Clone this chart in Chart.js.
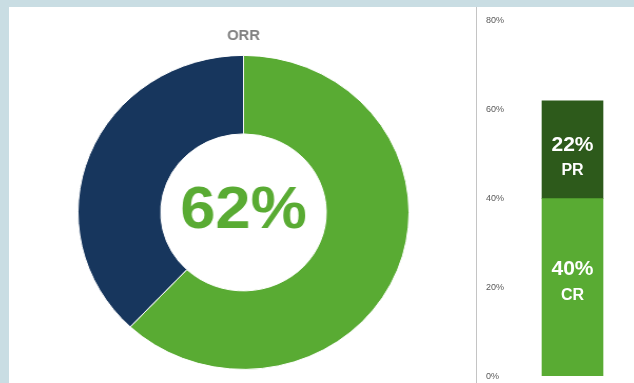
<!DOCTYPE html>
<html>
<head>
<meta charset="utf-8">
<title>ORR</title>
<script src="https://cdn.jsdelivr.net/npm/chart.js@4.4.0/dist/chart.umd.min.js"></script>
<style>
  html, body { margin: 0; padding: 0; }
  body { width: 634px; height: 383px; background: #c9dde3; position: relative; overflow: hidden; }
  #panel { position: absolute; left: 9px; top: 7px; right: 0; bottom: 0; background: #fff; }
  /* the doughnut is a bit wider than tall */
  #orr-chart { position: absolute; left: 86px; top: 20px; transform: scaleX(1.054); transform-origin: 50% 50%; }
  #resp-wrap { position: absolute; left: 476px; top: 7px; width: 158px; height: 380px; border-left: 1px solid #c4c4c4; }
  #resp-chart { position: absolute; left: 0; top: 0; }
</style>
</head>
<body>
<div id="panel"></div>
<canvas id="orr-chart" width="315" height="350"></canvas>
<div id="resp-wrap"><canvas id="resp-chart" width="157" height="378"></canvas></div>

<script>
// ---- data ----
const orrLabels = ['ORR', 'No response'];
const orrValues = [62, 38];

const respCategory = ['ORR'];
const respLabels = ['CR', 'PR'];
const respValues = [40, 22];

const axisMin = 0;
const axisMax = 80;
const axisStep = 20;

const GREEN = '#59ab33';
const NAVY = '#17365d';
const DARK_GREEN = '#2d5a1b';
const FONT = '"Liberation Sans", Arial, sans-serif';

Chart.defaults.font.family = FONT;

// big percentage in the hole of the doughnut
const centerText = {
  id: 'centerText',
  afterDraw(chart) {
    const { ctx, chartArea } = chart;
    const cx = (chartArea.left + chartArea.right) / 2;
    const cy = (chartArea.top + chartArea.bottom) / 2;
    ctx.save();
    ctx.fillStyle = GREEN;
    ctx.font = `bold 60px ${FONT}`;
    ctx.textAlign = 'center';
    ctx.textBaseline = 'middle';
    ctx.fillText(chart.data.datasets[0].data[0] + '%', cx, cy - 0.5);
    ctx.restore();
  }
};

new Chart(document.getElementById('orr-chart'), {
  type: 'doughnut',
  data: {
    labels: orrLabels,
    datasets: [{
      data: orrValues,
      backgroundColor: [GREEN, NAVY],
      borderColor: '#ffffff',
      borderWidth: 1,
      hoverOffset: 0,
    }]
  },
  options: {
    responsive: false,
    animation: false,
    events: [],
    cutout: '50%',
    layout: { padding: 0 },
    plugins: {
      legend: { display: false },
      tooltip: { enabled: false },
      title: {
        display: true,
        text: 'ORR',
        color: '#808080',
        font: { size: 14, weight: 'bold' },
        padding: { top: 8, bottom: 10 }
      }
    }
  },
  plugins: [centerText]
});

// value + name written inside each stacked segment
const barLabels = {
  id: 'barLabels',
  afterDatasetsDraw(chart) {
    const ctx = chart.ctx;
    chart.data.datasets.forEach((ds, i) => {
      const meta = chart.getDatasetMeta(i);
      meta.data.forEach((bar, j) => {
        const mid = (bar.y + bar.base) / 2 + (ds.labelShift || 0);
        ctx.save();
        ctx.fillStyle = '#ffffff';
        ctx.textAlign = 'center';
        ctx.textBaseline = 'middle';
        ctx.font = `bold 21px ${FONT}`;
        ctx.fillText(ds.data[j] + '%', bar.x, mid - 13);
        ctx.font = `bold 16px ${FONT}`;
        ctx.fillText(ds.label, bar.x, mid + 13);
        ctx.restore();
      });
    });
  }
};

new Chart(document.getElementById('resp-chart'), {
  type: 'bar',
  data: {
    labels: respCategory,
    datasets: [
      { label: respLabels[0], data: [respValues[0]], backgroundColor: GREEN, barThickness: 61, labelShift: -5 },
      { label: respLabels[1], data: [respValues[1]], backgroundColor: DARK_GREEN, barThickness: 61, labelShift: 8 }
    ]
  },
  options: {
    responsive: false,
    animation: false,
    events: [],
    layout: { padding: { top: 14, bottom: 0, left: 9, right: 0 } },
    plugins: {
      legend: { display: false },
      tooltip: { enabled: false }
    },
    scales: {
      x: { stacked: true, display: false },
      y: {
        stacked: true,
        min: axisMin,
        max: axisMax,
        grid: { display: false, drawTicks: false },
        border: { display: false },
        ticks: {
          stepSize: axisStep,
          crossAlign: 'far',
          padding: 3.5,
          color: '#595959',
          font: { size: 9 },
          callback: v => v + '%'
        }
      }
    }
  },
  plugins: [barLabels]
});
</script>
</body>
</html>
